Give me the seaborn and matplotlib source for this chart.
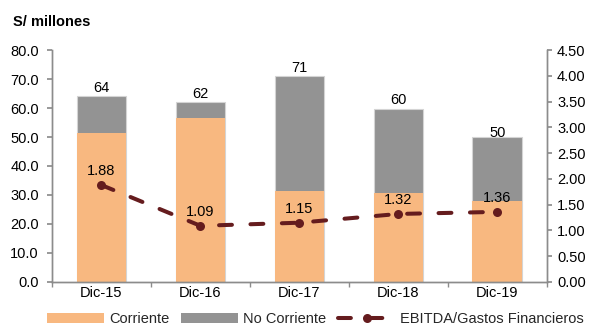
import matplotlib
matplotlib.use("Agg")
import matplotlib.pyplot as plt
import seaborn as sns
import numpy as np
import pandas as pd
from matplotlib.patches import Patch
from matplotlib.lines import Line2D
from matplotlib.ticker import FormatStrFormatter, FixedLocator

# ---- data ----
categories = ["Dic-15", "Dic-16", "Dic-17", "Dic-18", "Dic-19"]
corriente = [51.5, 56.7, 31.5, 30.8, 27.9]
no_corriente = [12.6, 5.2, 39.5, 28.9, 22.2]
ebitda_ratio = [1.88, 1.09, 1.15, 1.32, 1.36]
series_names = ["Corriente", "No Corriente", "EBITDA/Gastos Financieros"]
unit_label = "S/ millones"

# ---- style ----
sns.set_theme(style="white")
plt.rcParams["font.family"] = ["Liberation Sans", "DejaVu Sans"]
FS = 10.5
C_PEACH = "#F8B880"
C_GRAY = "#939393"
C_LINE = "#651C1E"
C_SPINE = "#8C8C8C"

df = pd.DataFrame({"cat": categories, "corr": corriente,
                   "nocorr": no_corriente, "ratio": ebitda_ratio})
df["total"] = df["corr"] + df["nocorr"]

fig = plt.figure(figsize=(5.9, 3.26), dpi=100)
ax = fig.add_axes([0.0881, 0.135, 0.9266 - 0.0881, 0.8466 - 0.135])

sns.barplot(data=df, x="cat", y="total", color=C_GRAY, saturation=1,
            width=0.5, errorbar=None, ax=ax, edgecolor="#d4d4d4", linewidth=0.8)
sns.barplot(data=df, x="cat", y="corr", color=C_PEACH, saturation=1,
            width=0.5, errorbar=None, ax=ax, linewidth=0)

ax.set_xlim(-0.5, len(categories) - 0.5)
ax.set_ylim(0, 80)
ax.set_yticks(np.arange(0, 80.1, 10))
ax.yaxis.set_major_formatter(FormatStrFormatter("%.1f"))
ax.set_xlabel("")
ax.set_ylabel("")

# total labels
label_offsets = [1, 1, 1, 1, -2.5]
for i, (t, off) in enumerate(zip(df["total"], label_offsets)):
    ax.annotate(f"{t:.0f}", (i, t), xytext=(0, off), textcoords="offset points",
                ha="center", va="bottom", fontsize=FS, color="black")

ax2 = ax.twinx()
xpos = np.arange(len(categories))
sns.lineplot(x=xpos, y=df["ratio"].values, ax=ax2, color=C_LINE, linewidth=2.9,
             marker="o", markersize=6.5, markeredgewidth=0,
             dashes=False, legend=False)
line = ax2.lines[0]
line.set_linestyle((0, (3.2, 4.6)))
line.set_dash_capstyle("round")
ax2.set_ylim(0, 4.5)
ax2.set_yticks(np.arange(0, 4.51, 0.5))
ax2.yaxis.set_major_formatter(FormatStrFormatter("%.2f"))
ax2.set_ylabel("")
ax2.set_xlim(-0.5, len(categories) - 0.5)
for i, r in enumerate(df["ratio"]):
    ax2.annotate(f"{r:.2f}", (i, r), xytext=(0, 5), textcoords="offset points",
                 ha="center", va="bottom", fontsize=FS, color="black")

# spines & ticks
for a in (ax, ax2):
    a.spines["top"].set_visible(False)
    for s in ("left", "right", "bottom"):
        a.spines[s].set_color(C_SPINE)
        a.spines[s].set_linewidth(1.0)
ax.tick_params(axis="y", which="major", left=True, length=3.5, color=C_SPINE,
               labelsize=FS, labelcolor="black", pad=6)
ax2.tick_params(axis="y", which="major", right=True, length=3.5, color=C_SPINE,
                labelsize=FS, labelcolor="black", pad=4)
ax.tick_params(axis="x", which="major", length=0, labelsize=FS, labelcolor="black", pad=3)
ax.xaxis.set_minor_locator(FixedLocator(np.arange(-0.5, len(categories), 1.0)))
ax.tick_params(axis="x", which="minor", bottom=True, length=3.5, color=C_SPINE)
ax2.tick_params(axis="x", which="both", bottom=False, top=False)

fig.text(13 / 590, 1 - 22 / 326, unit_label, fontsize=10.5, fontweight="bold",
         ha="left", va="center", color="black")

handles = [
    Patch(facecolor=C_PEACH, edgecolor="none"),
    Patch(facecolor=C_GRAY, edgecolor="none"),
    Line2D([0], [0], color=C_LINE, linewidth=2.9, linestyle=(0, (3.2, 4.6)),
           dash_capstyle="round", marker="o", markersize=6.5, markeredgewidth=0),
]
fig.legend(handles, series_names, loc="center", bbox_to_anchor=(0.535, 0.022),
           ncol=3, frameon=False, fontsize=FS, handlelength=3.9,
           handletextpad=0.35, columnspacing=0.8, borderaxespad=0, borderpad=0)

fig.savefig("out.png", dpi=100)
